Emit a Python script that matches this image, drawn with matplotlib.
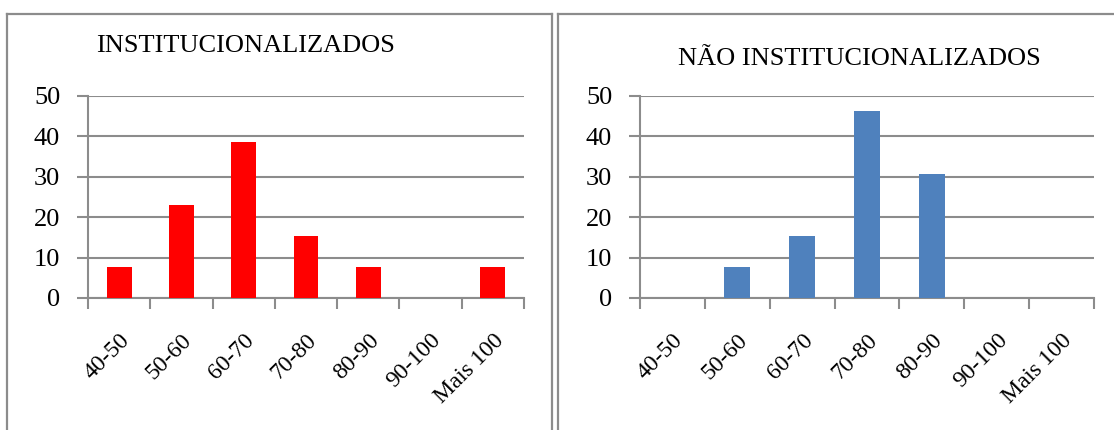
import matplotlib
matplotlib.use("Agg")
import matplotlib.pyplot as plt
from matplotlib.lines import Line2D
from matplotlib.transforms import ScaledTranslation

# faixas etárias e percentuais
categorias = ["40-50", "50-60", "60-70", "70-80", "80-90", "90-100", "Mais 100"]
inst = [7.7, 23.1, 38.5, 15.4, 7.7, 0.0, 7.7]
nao_inst = [0.0, 7.7, 15.4, 46.2, 30.8, 0.0, 0.0]
yticks = [0, 10, 20, 30, 40, 50]

W, H = 1114, 430
GRAY = "#8c8c8c"

plt.rcParams["font.family"] = ["Liberation Serif", "DejaVu Serif"]

fig = plt.figure(figsize=(W / 100, H / 100), dpi=100)
fig.patch.set_facecolor("white")


def px(x, y):
    return x / W, 1 - y / H


def frame(x0, x1, y0, y1, sides):
    # moldura cinza dos painéis, em pixels
    pts = {
        "top": ([x0, x1], [y0, y0]),
        "left": ([x0, x0], [y0, y1]),
        "right": ([x1, x1], [y0, y1]),
    }
    for s in sides:
        xs, ys = pts[s]
        fig.add_artist(Line2D([x / W for x in xs], [1 - y / H for y in ys],
                              transform=fig.transFigure, color=GRAY, lw=1.6))


frame(7, 552, 14, H + 5, ("top", "left", "right"))
frame(558, W + 5, 14, H + 5, ("top", "left"))


def painel(rect, valores, cor, titulo, tpos):
    ax = fig.add_axes(rect)
    x = range(len(categorias))
    ax.bar(x, valores, width=0.4, color=cor, zorder=3)
    ax.set_xlim(-0.5, len(categorias) - 0.5)
    ax.set_ylim(0, 50)
    ax.set_yticks(yticks)
    ax.set_yticklabels([str(v) for v in yticks], fontsize=19)
    ax.yaxis.grid(True, color=GRAY, lw=1.5, zorder=0)
    ax.set_xticks([i - 0.5 for i in range(len(categorias) + 1)])
    ax.set_xticklabels([])
    ax.set_xticks(list(x), minor=True)
    ax.set_xticklabels(categorias, minor=True, rotation=45, ha="right",
                       va="top", rotation_mode="anchor", fontsize=17)
    shift = ScaledTranslation(-6 / 100, 0, fig.dpi_scale_trans)
    for lab in ax.get_xticklabels(minor=True):
        lab.set_transform(lab.get_transform() + shift)
    ax.tick_params(axis="x", which="minor", length=0, pad=23)
    ax.tick_params(axis="x", which="major", length=8, width=1.5, color=GRAY,
                   direction="out")
    ax.tick_params(axis="y", length=8, width=1.5, color=GRAY, pad=12)
    for s in ("top", "right"):
        ax.spines[s].set_visible(False)
    for s in ("left", "bottom"):
        ax.spines[s].set_color(GRAY)
        ax.spines[s].set_linewidth(1.5)
    fig.text(*px(*tpos), titulo, fontsize=19, ha="left", va="center")
    return ax


bottom = 1 - 298 / H
height = 202 / H
painel([88 / W, bottom, 436 / W, height], inst, "#FF0000",
       "INSTITUCIONALIZADOS", (96, 46))
painel([640 / W, bottom, 454 / W, height], nao_inst, "#4F81BD",
       "NÃO INSTITUCIONALIZADOS", (678, 59))

fig.savefig("out.png", dpi=100, facecolor="white")
